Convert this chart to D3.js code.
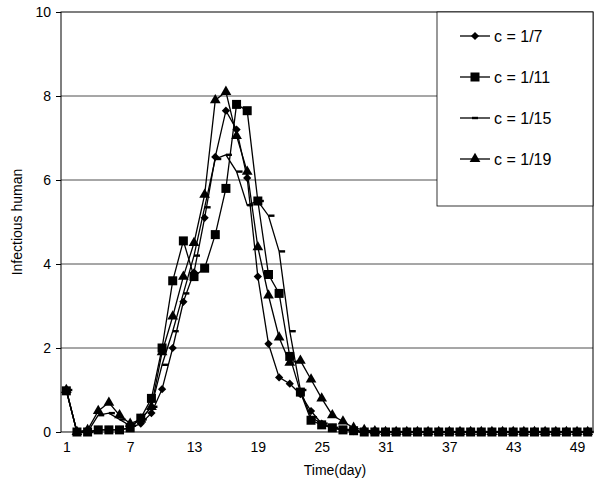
<!DOCTYPE html>
<html><head><meta charset="utf-8">
<script src="https://cdn.jsdelivr.net/npm/d3@7"></script>
<style>body{margin:0;background:#fff}</style>
</head><body>
<script>
const days = d3.range(1, 51)
const tail = n => Array(n).fill(0)
const c7  = [1,0,0,0.05,0.05,0.05,0.1,0.2,0.45,1.02,2.0,3.1,3.8,5.1,6.55,7.65,7.2,6.05,3.7,2.1,1.3,1.15,0.9,0.5,0.2,0.1,0.05,0.02].concat(tail(22))
const c11 = [0.98,0,0,0.05,0.05,0.05,0.1,0.33,0.8,2.0,3.6,4.55,3.7,3.9,4.7,5.8,7.8,7.65,5.5,3.75,3.3,1.8,0.95,0.28,0.17,0.1,0.05,0.03].concat(tail(22))
const c15 = [1,0,0,0.4,0.45,0.3,0.15,0.3,0.6,1.6,2.4,3.3,4.2,5.35,6.5,6.6,6.2,5.4,5.5,5.15,4.3,2.4,1.0,0.35,0.2,0.1,0.05,0.02].concat(tail(22))
const c19 = [1,0,0.05,0.5,0.7,0.4,0.2,0.3,0.6,1.9,2.75,3.7,4.5,5.65,7.9,8.1,7.05,6.2,4.4,3.25,2.25,1.65,1.7,1.25,0.8,0.4,0.25,0.1,0.05,0.02].concat(tail(20))
const seriesNames = ["c = 1/7", "c = 1/11", "c = 1/15", "c = 1/19"]
const symbols = ["diamond", "square", "dash", "triangle"]
const xTicks = [1,7,13,19,25,31,37,43,49]
const yTicks = [0,2,4,6,8,10]

const svg = d3.select("body").append("svg").attr("width",594).attr("height",486)
  .style("font-family","Arial, Liberation Sans, sans-serif")
const L=61, R=593, T=12, B=432
const x = d3.scalePoint().domain(days).range([L,R]).padding(0.5)
const y = d3.scaleLinear().domain([0,10]).range([B,T])

svg.append("g").selectAll("line").data(yTicks.slice(1,5)).join("line")
  .attr("x1",L).attr("x2",R).attr("y1",d=>y(d)).attr("y2",d=>y(d))
  .attr("stroke","#222").attr("stroke-width",0.8)
svg.append("rect").attr("x",L).attr("y",T).attr("width",R-L).attr("height",B-T)
  .attr("fill","none").attr("stroke","#000").attr("stroke-width",1)

const ya = svg.append("g").attr("transform",`translate(${L},0)`)
  .call(d3.axisLeft(y).tickValues(yTicks).tickSize(5).tickSizeOuter(0))
ya.select(".domain").remove()
ya.selectAll("text").attr("font-size",14).attr("fill","#000").attr("dx",-2)
const xa = svg.append("g").attr("transform",`translate(0,${B})`)
  .call(d3.axisBottom(x).tickValues(xTicks).tickSize(0).tickPadding(10))
xa.select(".domain").attr("stroke","#888")
xa.selectAll("text").attr("font-size",14).attr("fill","#000")

svg.append("text").attr("x",L+(R-L)/2+8).attr("y",475).attr("text-anchor","middle")
  .attr("font-size",14).text("Time(day)")
svg.append("text").attr("transform","translate(22,222) rotate(-90)").attr("text-anchor","middle")
  .attr("font-size",14).text("Infectious human")

function marker(g, type, cx, cy) {
  if (type==="diamond") g.append("path").attr("d",d3.symbol(d3.symbolSquare,34)()).attr("transform",`translate(${cx},${cy}) rotate(45)`)
  else if (type==="square") g.append("rect").attr("x",cx-4.5).attr("y",cy-4.5).attr("width",9).attr("height",9)
  else if (type==="triangle") g.append("path").attr("d",d3.symbol(d3.symbolTriangle,50)()).attr("transform",`translate(${cx},${cy})`)
  else g.append("rect").attr("x",cx).attr("y",cy-1.2).attr("width",6).attr("height",2.4)
}

const line = d3.line().x((d,i)=>x(days[i])).y(d=>y(d))
const all = [c7,c11,c15,c19]
all.forEach((vals,k)=>{
  const g = svg.append("g").attr("fill","#000")
  g.append("path").attr("d",line(vals)).attr("fill","none").attr("stroke","#000").attr("stroke-width",1.3)
  vals.forEach((v,i)=>marker(g,symbols[k],x(days[i]),y(v)))
})

const lg = svg.append("g")
lg.append("rect").attr("x",437).attr("y",T).attr("width",R-437).attr("height",194)
  .attr("fill","#fff").attr("stroke","#000").attr("stroke-width",0.8)
seriesNames.forEach((n,k)=>{
  const ly = 36 + k*41
  const g = lg.append("g").attr("fill","#000")
  g.append("line").attr("x1",460).attr("x2",490).attr("y1",ly).attr("y2",ly).attr("stroke","#000").attr("stroke-width",1.3)
  marker(g,symbols[k],475 - (symbols[k]==="dash"?3:0),ly)
  g.append("text").attr("x",494).attr("y",ly+6).attr("font-size",16).text(n)
})
</script>
</body></html>
